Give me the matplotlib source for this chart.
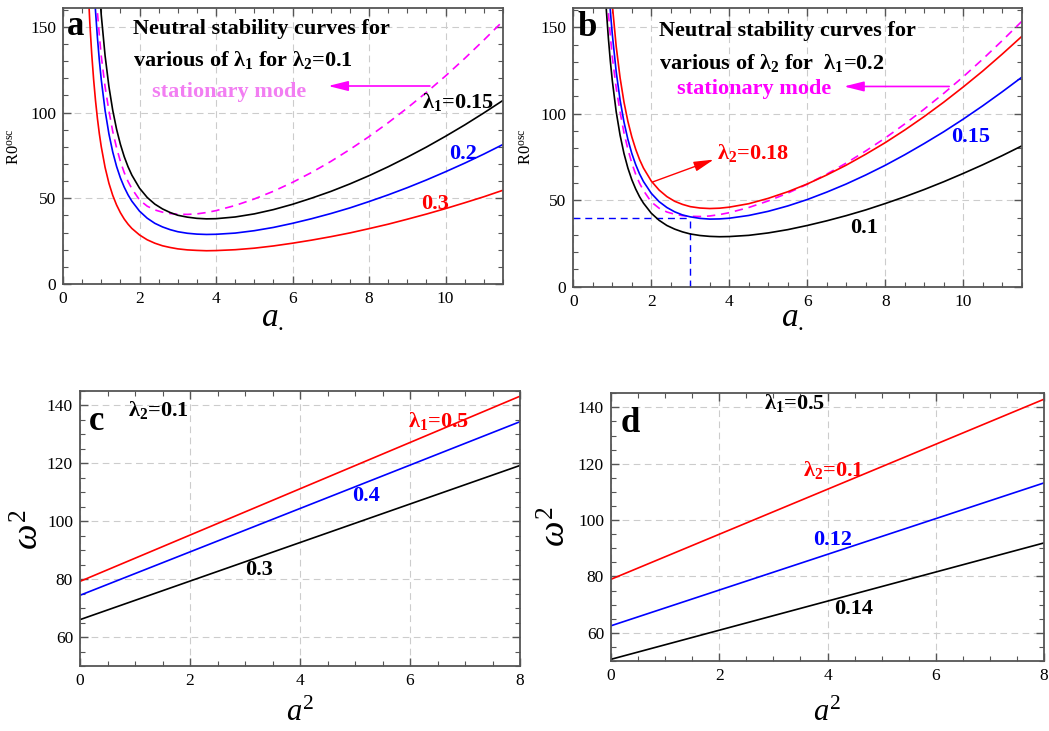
import matplotlib
matplotlib.use("Agg")
import matplotlib.pyplot as plt
from matplotlib.ticker import MultipleLocator

plt.rcParams['font.family'] = ['Liberation Serif', 'DejaVu Serif']
plt.rcParams['mathtext.fontset'] = 'custom'
plt.rcParams['mathtext.rm'] = 'Liberation Serif'
plt.rcParams['mathtext.it'] = 'Liberation Serif:italic'
plt.rcParams['mathtext.bf'] = 'Liberation Serif:bold'

# ---------------- data ----------------
# wavenumber grid for panels a and b; each curve lists values for the tail of this grid
A_GRID = [0.6, 0.65, 0.7, 0.75, 0.8, 0.85, 0.9, 0.95, 1.0, 1.1, 1.2, 1.3, 1.4, 1.5,
          1.6, 1.7, 1.8, 2.0, 2.2, 2.4, 2.6, 2.8, 3.0, 3.25, 3.5, 3.75, 4.0, 4.5,
          5.0, 5.5, 6.0, 6.5, 7.0, 7.5, 8.0, 8.5, 9.0, 9.5, 10.0, 10.5, 11.0, 11.5]

# panel a : lambda2 = 0.1
R_a_lam1_015 = [171.6, 156.9, 133.2, 115.2, 101.3, 90.3, 81.5, 74.3, 68.4, 63.5,
                55.9, 50.5, 46.6, 43.8, 41.7, 40.1, 39.0, 38.3, 38.0, 38.1,
                39.1, 40.9, 43.4, 46.5, 50.1, 54.0, 58.4, 63.2, 68.4, 74.0, 79.9,
                86.2, 92.8, 99.8, 107.1]
R_a_lam1_02 = [177.7, 159.1, 143.6, 130.4, 119.2, 101.2, 87.6, 77.0, 68.6, 61.9,
               56.5, 52.0, 48.3, 42.5, 38.4, 35.4, 33.3, 31.7, 30.5, 29.6, 29.1,
               28.9, 29.0, 29.7, 31.1, 33.0, 35.4, 38.1, 41.1, 44.4, 48.1, 52.0,
               56.2, 60.7, 65.5, 70.5, 75.8, 81.4]
R_a_lam1_03 = [175.7, 152.8, 134.4, 119.4, 106.9, 96.5, 87.6, 80.1, 68.0, 58.8,
               51.7, 46.1, 41.6, 37.9, 34.9, 32.4, 28.6, 25.8, 23.8, 22.3, 21.3,
               20.5, 19.9, 19.6, 19.4, 19.5, 20.0, 20.9, 22.2, 23.8, 25.6, 27.6,
               29.8, 32.3, 34.9, 37.8, 40.8, 44.0, 47.4, 50.9, 54.7]
R_stationary = [194.0, 175.0, 158.5, 145.0, 133.0, 115.0, 101.0, 89.0, 79.5, 71.5,
                65.0, 59.8, 55.6, 49.0, 45.4, 43.2, 41.9, 41.1, 40.7, 40.6, 40.9,
                41.7, 42.8, 45.8, 49.6, 54.1, 59.3, 65.1, 71.5, 78.5, 86.0, 94.1,
                102.7, 111.8, 121.4, 131.6, 142.3, 153.4]

# panel b : lambda1 = 0.2
R_b_lam2_01 = R_a_lam1_02
R_b_lam2_015 = [175.3, 159.5, 146.0, 124.3, 107.9, 95.2, 85.2, 77.1, 70.6, 65.2,
                60.8, 54.0, 49.2, 45.8, 43.3, 41.5, 40.4, 39.5, 39.1, 39.2, 39.6,
                41.2, 43.6, 46.7, 50.4, 54.7, 59.4, 64.6, 70.2, 76.3, 82.8, 89.6,
                96.9, 104.6, 112.7, 121.1]
R_b_lam2_018 = [178.1, 163.1, 139.0, 120.8, 106.7, 95.6, 86.7, 79.5, 73.5, 68.6,
                61.1, 55.9, 52.1, 49.4, 47.6, 46.3, 45.5, 45.2, 45.4, 46.0, 48.0,
                51.1, 54.9, 59.4, 64.6, 70.3, 76.6, 83.3, 90.6, 98.4, 106.7, 115.5,
                124.7, 134.5, 144.7]
crit_a = 3.0
crit_R = 40.0

# panels c and d : omega^2 vs a^2
a2 = [0, 8]
w2_c_lam1_05 = [79.2, 143.1]
w2_c_lam1_04 = [74.4, 134.3]
w2_c_lam1_03 = [66.0, 119.2]
w2_d_lam2_01 = [79.0, 142.9]
w2_d_lam2_012 = [62.5, 113.2]
w2_d_lam2_014 = [50.6, 91.9]


def xs(vals):
    return A_GRID[len(A_GRID) - len(vals):]


# ---------------- figure ----------------
W, H = 1049, 731
fig = plt.figure(figsize=(W / 100, H / 100), dpi=100)


def rect(l, t, r, b):
    return [l / W, (H - b) / H, (r - l) / W, (b - t) / H]


ax_a = fig.add_axes(rect(63, 8, 503, 284))
ax_b = fig.add_axes(rect(573.3, 8.3, 1021.7, 286.7))
ax_c = fig.add_axes(rect(80, 390.7, 520, 666))
ax_d = fig.add_axes(rect(611, 393.3, 1044, 661))

SPINE = '#555555'
GRID = dict(color='#cccccc', linestyle=(0, (6, 4)), linewidth=0.8)
LW = 1.2
DASH = (0, (5, 3.5))


def style(ax, xlim, ylim, xmaj, xmin, ymaj, ymin):
    ax.set_xlim(*xlim)
    ax.set_ylim(*ylim)
    ax.xaxis.set_major_locator(MultipleLocator(xmaj))
    ax.xaxis.set_minor_locator(MultipleLocator(xmin))
    ax.yaxis.set_major_locator(MultipleLocator(ymaj))
    ax.yaxis.set_minor_locator(MultipleLocator(ymin))
    ax.grid(True, which='major', **GRID)
    ax.set_axisbelow(True)
    for s in ax.spines.values():
        s.set_color(SPINE)
        s.set_linewidth(1.3)
    ax.tick_params(which='both', direction='in', top=True, right=True,
                   color=SPINE, labelsize=12.5)
    ax.tick_params(which='major', length=6, width=1.0, pad=5)
    ax.tick_params(which='minor', length=3.5, width=0.8)


def lam(i, rest):
    return "λ${}_{\\mathbf{%d}}$%s" % (i, rest)


BOLD = dict(fontweight='bold', fontsize=16, va='center', ha='left')
ARROW = '-|>,head_length=1.2,head_width=0.3'

# ----- panel a -----
ax = ax_a
style(ax, (0, 11.5), (0, 161), 2, 0.5, 50, 10)
ax.plot(xs(R_stationary), R_stationary, color='magenta', lw=LW, linestyle=DASH)
ax.plot(xs(R_a_lam1_015), R_a_lam1_015, color='black', lw=LW)
ax.plot(xs(R_a_lam1_02), R_a_lam1_02, color='blue', lw=LW)
ax.plot(xs(R_a_lam1_03), R_a_lam1_03, color='red', lw=LW)
ax.text(0.1, 150, 'a', fontweight='bold', fontsize=25, va='center', ha='left')
ax.text(1.82, 149, 'Neutral stability curves for', color='black', **BOLD)
ax.text(1.82, 130.5, 'various of ' + lam(1, ' for ') + lam(2, '=0.1'), color='black', **BOLD)
ax.text(2.32, 112, 'stationary mode', color='#f27ef2', **BOLD)
ax.annotate('', xy=(6.93, 115.5), xytext=(9.59, 115.5),
            arrowprops=dict(arrowstyle=ARROW, color='magenta', lw=1.2,
                            mutation_scale=10, shrinkA=0, shrinkB=0))
ax.text(9.37, 106.4, lam(1, '=0.15'), color='black', **BOLD)
ax.text(10.1, 75.7, '0.2', color='blue', **BOLD)
ax.text(9.37, 46.7, '0.3', color='red', **BOLD)
fig.text(15 / W, 1 - 147 / H, 'R0$^{\\mathrm{osc}}$', rotation=90, fontsize=12,
         ha='center', va='center')
fig.text(272 / W, 1 - 318 / H, '$a_{.}$', fontsize=24, ha='center', va='center')

# ----- panel b -----
ax = ax_b
style(ax, (0, 11.5), (0, 161), 2, 0.5, 50, 10)
ax.plot([0, crit_a], [crit_R, crit_R], color='blue', lw=1.0, linestyle=DASH)
ax.plot([crit_a, crit_a], [0, crit_R], color='blue', lw=1.0, linestyle=DASH)
ax.plot(xs(R_stationary), R_stationary, color='magenta', lw=LW, linestyle=DASH)
ax.plot(xs(R_b_lam2_01), R_b_lam2_01, color='black', lw=LW)
ax.plot(xs(R_b_lam2_015), R_b_lam2_015, color='blue', lw=LW)
ax.plot(xs(R_b_lam2_018), R_b_lam2_018, color='red', lw=LW)
ax.text(0.12, 150, 'b', fontweight='bold', fontsize=25, va='center', ha='left')
ax.text(2.21, 147.7, 'Neutral stability curves for', color='black', **BOLD)
ax.text(2.21, 129.3, 'various of ' + lam(2, ' for  ') + lam(1, '=0.2'), color='black', **BOLD)
ax.text(2.66, 114.5, 'stationary mode', color='magenta', **BOLD)
ax.annotate('', xy=(6.94, 115.8), xytext=(9.64, 115.8),
            arrowprops=dict(arrowstyle=ARROW, color='magenta', lw=1.2,
                            mutation_scale=10, shrinkA=0, shrinkB=0))
ax.annotate('', xy=(3.6, 73.5), xytext=(2.04, 60.6),
            arrowprops=dict(arrowstyle=ARROW, color='red', lw=1.0,
                            mutation_scale=10, shrinkA=0, shrinkB=0))
ax.text(3.69, 77.5, lam(2, '=0.18'), color='red', **BOLD)
ax.text(9.68, 86.6, '0.15', color='blue', **BOLD)
ax.text(7.11, 34, '0.1', color='black', **BOLD)
fig.text(527 / W, 1 - 147 / H, 'R0$^{\\mathrm{osc}}$', rotation=90, fontsize=12,
         ha='center', va='center')
fig.text(792 / W, 1 - 318 / H, '$a_{.}$', fontsize=24, ha='center', va='center')

# ----- panel c -----
ax = ax_c
style(ax, (0, 8), (50, 145), 2, 0.5, 20, 5)
ax.plot(a2, w2_c_lam1_05, color='red', lw=LW)
ax.plot(a2, w2_c_lam1_04, color='blue', lw=LW)
ax.plot(a2, w2_c_lam1_03, color='black', lw=LW)
ax.text(0.16, 134.5, 'c', fontweight='bold', fontsize=25, va='center', ha='left')
ax.text(0.87, 138.5, lam(2, '=0.1'), color='black', **BOLD)
ax.text(5.96, 134.5, lam(1, '=0.5'), color='red', **BOLD)
ax.text(4.94, 108.8, '0.4', color='blue', **BOLD)
ax.text(3.0, 83.3, '0.3', color='black', **BOLD)
fig.text(30 / W, 1 - 530 / H, '$\\omega^2$', rotation=90, fontsize=26,
         ha='center', va='center')
fig.text(300 / W, 1 - 713 / H, '$a^2$', fontsize=22, ha='center', va='center')

# ----- panel d -----
ax = ax_d
style(ax, (0, 8), (50, 145), 2, 0.5, 20, 5)
ax.plot(a2, w2_d_lam2_01, color='red', lw=LW)
ax.plot(a2, w2_d_lam2_012, color='blue', lw=LW)
ax.plot(a2, w2_d_lam2_014, color='black', lw=LW)
ax.text(0.18, 134.3, 'd', fontweight='bold', fontsize=25, va='center', ha='left')
ax.text(2.83, 141.4, lam(1, '=0.5'), color='black', **BOLD)
ax.text(3.55, 117.7, lam(2, '=0.1'), color='red', **BOLD)
ax.text(3.73, 92.9, '0.12', color='blue', **BOLD)
ax.text(4.12, 68.6, '0.14', color='black', **BOLD)
fig.text(557 / W, 1 - 527 / H, '$\\omega^2$', rotation=90, fontsize=26,
         ha='center', va='center')
fig.text(827 / W, 1 - 713 / H, '$a^2$', fontsize=22, ha='center', va='center')

fig.savefig('out.png', dpi=100)
